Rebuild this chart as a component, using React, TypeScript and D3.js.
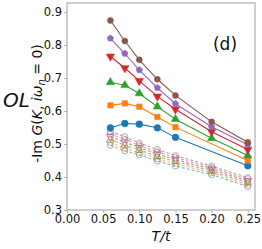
import React, { useEffect, useRef } from 'react';
import * as d3 from 'd3';

// temperatures (T/t)
const temps = [0.06, 0.08, 0.10, 0.125, 0.15, 0.20, 0.25];

// solid series (filled markers)
const solidBlue = [0.549, 0.562, 0.560, 0.549, 0.520, null, 0.434];
const solidOrange = [0.617, 0.623, 0.613, 0.582, 0.551, null, 0.450];
const solidGreen = [0.687, 0.678, 0.653, 0.613, 0.575, 0.517, 0.465];
const solidRed = [0.765, 0.730, 0.691, 0.644, 0.605, 0.537, 0.483];
const solidPurple = [0.820, 0.774, 0.724, 0.670, 0.622, 0.552, 0.498];
const solidBrown = [0.874, 0.812, 0.755, 0.696, 0.647, 0.567, 0.505];

// dashed series (open markers)
const dashBlue = [0.496, 0.479, 0.467, 0.448, 0.433, 0.407, 0.371];
const dashOrange = [0.505, 0.487, 0.474, 0.455, 0.440, 0.413, 0.377];
const dashGreen = [0.513, 0.496, 0.482, 0.462, 0.447, 0.418, 0.383];
const dashRed = [0.522, 0.505, 0.489, 0.469, 0.453, 0.423, 0.388];
const dashPurple = [0.530, 0.514, 0.496, 0.476, 0.459, 0.428, 0.393];
const dashBrown = [0.538, 0.522, 0.503, 0.483, 0.465, 0.433, 0.398];

const colors = ['#1f77b4', '#ff7f0e', '#2ca02c', '#d62728', '#9467bd', '#8c564b'];
const markers = ['circle', 'square', 'triUp', 'triDown', 'pentagon', 'circle'];
const solidSeries = [solidBlue, solidOrange, solidGreen, solidRed, solidPurple, solidBrown];
const dashSeries = [dashBlue, dashOrange, dashGreen, dashRed, dashPurple, dashBrown];

const xTicks = [0, 0.05, 0.10, 0.15, 0.20, 0.25];
const yTicks = [0.3, 0.4, 0.5, 0.6, 0.7, 0.8, 0.9];

const pentagon = {
  draw(ctx: any, size: number) {
    const r = Math.sqrt(size / 2.378);
    for (let i = 0; i < 5; i++) {
      const a = -Math.PI / 2 + (i * 2 * Math.PI) / 5;
      const px = r * Math.cos(a), py = r * Math.sin(a);
      if (i === 0) ctx.moveTo(px, py); else ctx.lineTo(px, py);
    }
    ctx.closePath();
  }
};

function markerPath(kind: string, size: number) {
  if (kind === 'square') return d3.symbol(d3.symbolSquare, size)();
  if (kind === 'triUp' || kind === 'triDown') return d3.symbol(d3.symbolTriangle, size)();
  if (kind === 'pentagon') return d3.symbol(pentagon as any, size)();
  return d3.symbol(d3.symbolCircle, size)();
}

function App() {
  const svgRef = useRef<SVGSVGElement>(null);

  useEffect(() => {
    const width = 262, height = 249;
    const left = 67, right = 255, top = 3, bottom = 210;

    const x = d3.scaleLinear().domain([0, 0.26]).range([left, right]);
    const y = d3.scaleLinear().domain([0.3, 0.927]).range([bottom, top]);

    const svg = d3.select(svgRef.current)
      .attr('width', width)
      .attr('height', height)
      .style('font-family', '"DejaVu Sans", sans-serif');

    // axes frame
    svg.append('rect')
      .attr('x', left).attr('y', top)
      .attr('width', right - left).attr('height', bottom - top)
      .attr('fill', 'none').attr('stroke', '#b0b0b0').attr('stroke-width', 1.2);

    const xAxis = svg.append('g').attr('transform', `translate(0,${bottom})`)
      .call(d3.axisBottom(x).tickValues(xTicks).tickSize(3).tickPadding(2).tickFormat(d3.format('.2f')));
    const yAxis = svg.append('g').attr('transform', `translate(${left},0)`)
      .call(d3.axisLeft(y).tickValues(yTicks).tickSize(3).tickPadding(2).tickFormat(d3.format('.1f')));
    [xAxis, yAxis].forEach(ax => {
      ax.select('.domain').remove();
      ax.selectAll('line').attr('stroke', '#b0b0b0');
      ax.selectAll('text').attr('font-size', 11.5).attr('fill', '#111').style('font-family', '"DejaVu Sans", sans-serif');
    });

    const line = d3.line<any>()
      .x(d => x(d[0]))
      .y(d => y(d[1]));

    const drawSeries = (vals: (number | null)[], i: number, dashed: boolean) => {
      const pts = temps.map((t, k) => [t, vals[k]]).filter(d => d[1] != null);
      const g = svg.append('g').attr('opacity', dashed ? 0.55 : 1);
      g.append('path')
        .attr('d', line(pts))
        .attr('fill', 'none')
        .attr('stroke', colors[i])
        .attr('stroke-width', 1.1)
        .attr('stroke-dasharray', dashed ? '3,2' : null);
      const size = markers[i] === 'square' ? 30 : markers[i].startsWith('tri') ? 30 : (i === 0 ? 36 : 28);
      g.selectAll('path.m')
        .data(pts)
        .join('path')
        .attr('class', 'm')
        .attr('d', markerPath(markers[i], dashed ? 28 : size))
        .attr('transform', d => `translate(${x(d[0])},${y(d[1] as number)})${markers[i] === 'triDown' ? ' rotate(180)' : ''}`)
        .attr('fill', dashed ? 'none' : colors[i])
        .attr('stroke', colors[i])
        .attr('stroke-width', dashed ? 1 : 0.5);
    };

    dashSeries.forEach((s, i) => drawSeries(s, i, true));
    solidSeries.forEach((s, i) => drawSeries(s, i, false));

    // panel label
    svg.append('text').attr('x', 225).attr('y', 50).attr('text-anchor', 'middle')
      .attr('font-size', 17).attr('fill', '#111').text('(d)');

    // OL label
    svg.append('text').attr('x', 3).attr('y', 107)
      .attr('font-size', 20).attr('font-style', 'italic').attr('fill', '#111').text('OL');

    // x label
    svg.append('text').attr('x', 161).attr('y', 241).attr('text-anchor', 'middle')
      .attr('font-size', 14).attr('font-style', 'italic').attr('fill', '#111').text('T/t');

    // y label
    const yl = svg.append('text')
      .attr('transform', `translate(42,${(top + bottom) / 2 - 3}) rotate(-90)`)
      .attr('text-anchor', 'middle').attr('font-size', 14).attr('fill', '#111');
    yl.append('tspan').text('-Im ');
    yl.append('tspan').attr('font-style', 'italic').text('G');
    yl.append('tspan').text('(');
    yl.append('tspan').attr('font-style', 'italic').text('K');
    yl.append('tspan').text(', ');
    yl.append('tspan').attr('font-style', 'italic').text('iω');
    yl.append('tspan').attr('font-style', 'italic').attr('font-size', 10).attr('dy', 3).text('n');
    yl.append('tspan').attr('dy', -3).text(' = 0)');

    return () => { svg.selectAll('*').remove(); };
  }, []);

  return (
    <svg ref={svgRef} style={{ position: 'absolute', left: 0, top: 0, background: '#fff' }}></svg>
  );
}

export default App;
